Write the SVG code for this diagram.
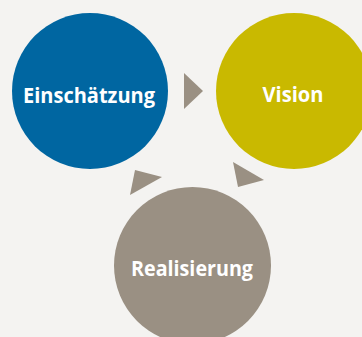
<svg xmlns="http://www.w3.org/2000/svg" width="362" height="337" viewBox="0 0 362 337">
<style>
.lbl{font-family:"Open Sans","Noto Sans",sans-serif;font-weight:bold;font-size:21px;fill:#ffffff;text-anchor:middle}
.arr{fill:#9a9083}
</style>
<rect width="362" height="337" fill="#f4f3f1"/>
<g id="connectors">
<polygon class="arr" points="184,73 203,91 184,109"/>
<polygon class="arr" points="135,170 162,177 130,195"/>
<polygon class="arr" points="233,162 264,180 238,187"/>
</g>
<g id="einschaetzung">
<circle cx="90" cy="91" r="78" fill="#0066a1"/>
<text class="lbl" x="89" y="103" textLength="132" lengthAdjust="spacingAndGlyphs">Einschätzung</text>
</g>
<g id="vision">
<circle cx="294" cy="91" r="78" fill="#c9b900"/>
<text class="lbl" x="293" y="102" textLength="61" lengthAdjust="spacingAndGlyphs">Vision</text>
</g>
<g id="realisierung">
<circle cx="192.5" cy="265.5" r="78.5" fill="#9a9083"/>
<text class="lbl" x="192" y="276" textLength="122" lengthAdjust="spacingAndGlyphs">Realisierung</text>
</g>
</svg>
